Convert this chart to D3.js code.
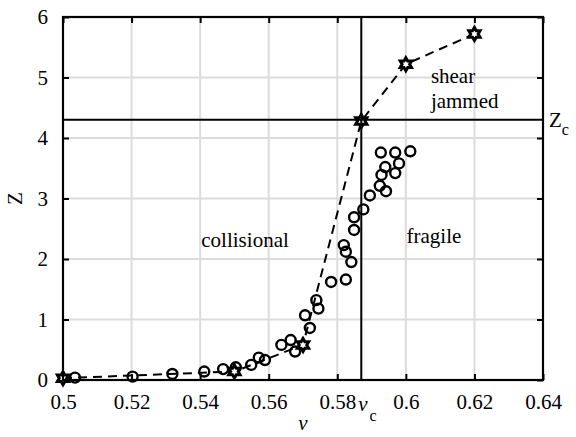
<!DOCTYPE html>
<html>
<head>
<meta charset="utf-8">
<script src="https://cdn.jsdelivr.net/npm/d3@7"></script>
<style>
  html, body { margin: 0; padding: 0; background: #fff; }
  svg { display: block; font-family: "Liberation Serif", "DejaVu Serif", serif; }
</style>
</head>
<body>
<svg id="chart" width="576" height="437"></svg>
<script>
// Coordination number Z vs. packing fraction nu
const xTicks = [0.5, 0.52, 0.54, 0.56, 0.58, 0.6, 0.62, 0.64];
const xTickLabels = ["0.5", "0.52", "0.54", "0.56", "0.58", "0.6", "0.62", "0.64"];
const yTicks = [0, 1, 2, 3, 4, 5, 6];
const yTickLabels = ["0", "1", "2", "3", "4", "5", "6"];

// Simulation points (hexagram markers, joined by dashed line)
const simNu = [0.5, 0.55, 0.57, 0.587, 0.6, 0.62];
const simZ  = [0.03, 0.14, 0.58, 4.28, 5.22, 5.72];

// Experimental points (open circles)
const expNu = [0.5035, 0.5203, 0.5319, 0.5412, 0.5467, 0.5504, 0.5549, 0.5571, 0.5589,
               0.5637, 0.5664, 0.5677, 0.5706, 0.572, 0.5739, 0.5745, 0.5782, 0.5819,
               0.5825, 0.5825, 0.5841, 0.5849, 0.5849, 0.5876, 0.5895, 0.5924, 0.5927,
               0.5929, 0.594, 0.5942, 0.5969, 0.5969, 0.598, 0.6013];
const expZ  = [0.04, 0.055, 0.10, 0.14, 0.18, 0.21, 0.25, 0.37, 0.33,
               0.58, 0.66, 0.47, 1.07, 0.86, 1.32, 1.18, 1.62, 2.23,
               2.12, 1.66, 1.95, 2.69, 2.48, 2.82, 3.05, 3.21, 3.76,
               3.39, 3.52, 3.12, 3.76, 3.42, 3.58, 3.78];

// Critical values
const nuC = 0.587;
const zC = 4.3;

// Region labels
const regionLabels = [
  { text: "collisional", nu: 0.5531, z: 2.32, anchor: "middle" },
  { text: "fragile", nu: 0.6082, z: 2.39, anchor: "middle" },
  { text: "shear", nu: 0.6073, z: 5.03, anchor: "start" },
  { text: "jammed", nu: 0.6073, z: 4.62, anchor: "start" }
];

const margin = { left: 63, right: 33, top: 17, bottom: 57 };
const W = 576, H = 437;
const svg = d3.select("#chart");

const x = d3.scaleLinear().domain([0.5, 0.64]).range([margin.left, W - margin.right]);
const y = d3.scaleLinear().domain([0, 6]).range([H - margin.bottom, margin.top]);

const fontSize = 21;

// Grid lines
const grid = svg.append("g");
grid.selectAll("line.gx").data(xTicks.slice(1, -1)).join("line")
  .attr("x1", d => x(d)).attr("x2", d => x(d))
  .attr("y1", y(0)).attr("y2", y(6))
  .attr("stroke", "#dcdcdc").attr("stroke-width", 2);
grid.selectAll("line.gy").data(yTicks.slice(1, -1)).join("line")
  .attr("x1", x(0.5)).attr("x2", x(0.64))
  .attr("y1", d => y(d)).attr("y2", d => y(d))
  .attr("stroke", "#dcdcdc").attr("stroke-width", 2);

// Axes with inward ticks
const tickLen = 6;
const bottomAxis = d3.axisBottom(x).tickValues(xTicks)
  .tickFormat((d, i) => xTickLabels[i]).tickSizeInner(-tickLen).tickSizeOuter(0).tickPadding(14);
const leftAxis = d3.axisLeft(y).tickValues(yTicks)
  .tickFormat((d, i) => yTickLabels[i]).tickSizeInner(-tickLen).tickSizeOuter(0).tickPadding(15);
const topAxis = d3.axisTop(x).tickValues(xTicks).tickFormat("").tickSizeInner(-tickLen).tickSizeOuter(0);
const rightAxis = d3.axisRight(y).tickValues(yTicks).tickFormat("").tickSizeInner(-tickLen).tickSizeOuter(0);

function styleAxis(g) {
  g.attr("font-family", null).attr("font-size", null);
  g.select(".domain").remove();
  g.selectAll(".tick line").attr("stroke", "#000").attr("stroke-width", 2);
  g.selectAll(".tick text").attr("fill", "#000")
    .style("font-family", "'Liberation Serif', serif").style("font-size", fontSize + "px");
}
svg.append("g").attr("transform", `translate(0,${y(0)})`).call(bottomAxis).call(styleAxis);
svg.append("g").attr("transform", `translate(${x(0.5)},0)`).call(leftAxis).call(styleAxis);
svg.append("g").attr("transform", `translate(0,${y(6)})`).call(topAxis).call(styleAxis);
svg.append("g").attr("transform", `translate(${x(0.64)},0)`).call(rightAxis).call(styleAxis);

// Open circles
svg.append("g").selectAll("circle").data(expNu.map((v, i) => [v, expZ[i]])).join("circle")
  .attr("cx", d => x(d[0])).attr("cy", d => y(d[1])).attr("r", 5)
  .attr("fill", "none").attr("stroke", "#000").attr("stroke-width", 2.4);

// Dashed line through simulation points
const simPts = simNu.map((v, i) => [v, simZ[i]]);
svg.append("path").datum(simPts)
  .attr("d", d3.line().x(d => x(d[0])).y(d => y(d[1])))
  .attr("fill", "none").attr("stroke", "#000").attr("stroke-width", 2)
  .attr("stroke-dasharray", "9,6");

// Hexagram markers
function hexagram(r) {
  const pts = [];
  for (let k = 0; k < 12; k++) {
    const a = -Math.PI / 2 + k * Math.PI / 6;
    const rr = k % 2 === 0 ? r : r / Math.sqrt(3);
    pts.push([rr * Math.cos(a), rr * Math.sin(a)]);
  }
  return "M" + pts.map(p => p.join(",")).join("L") + "Z";
}
svg.append("g").selectAll("path").data(simPts).join("path")
  .attr("transform", d => `translate(${x(d[0])},${y(d[1])})`)
  .attr("d", hexagram(6.5))
  .attr("fill", "#fff").attr("stroke", "#000").attr("stroke-width", 3)
  .attr("stroke-linejoin", "miter");

// Critical lines
svg.append("line").attr("x1", x(nuC)).attr("x2", x(nuC)).attr("y1", y(0)).attr("y2", y(6))
  .attr("stroke", "#000").attr("stroke-width", 2);
svg.append("line").attr("x1", x(0.5)).attr("x2", x(0.64)).attr("y1", y(zC)).attr("y2", y(zC))
  .attr("stroke", "#000").attr("stroke-width", 2);

// Frame
svg.append("rect").attr("x", x(0.5)).attr("y", y(6))
  .attr("width", x(0.64) - x(0.5)).attr("height", y(0) - y(6))
  .attr("fill", "none").attr("stroke", "#000").attr("stroke-width", 2.2);

// Region labels
svg.append("g").selectAll("text").data(regionLabels).join("text")
  .attr("x", d => x(d.nu)).attr("y", d => y(d.z))
  .attr("dy", "0.35em").attr("text-anchor", d => d.anchor)
  .style("font-size", fontSize + "px").text(d => d.text);

// Critical value labels
const zcLabel = svg.append("text").attr("x", x(0.64) + 6).attr("y", y(zC) + 7)
  .style("font-size", fontSize + "px");
zcLabel.append("tspan").text("Z");
zcLabel.append("tspan").attr("dy", 8).style("font-size", "16px").text("c");

const nucLabel = svg.append("text").attr("x", x(nuC) - 3).attr("y", y(0) + 31)
  .style("font-size", fontSize + "px");
nucLabel.append("tspan").style("font-style", "italic").text("ν");
nucLabel.append("tspan").attr("dx", 2).attr("dy", 10).style("font-size", "16px").text("c");

// Axis titles
svg.append("text").attr("x", (x(0.5) + x(0.64)) / 2).attr("y", 430)
  .attr("text-anchor", "middle").style("font-size", fontSize + "px")
  .style("font-style", "italic").text("ν");
svg.append("text").attr("transform", `translate(22,${(y(0) + y(6)) / 2}) rotate(-90)`)
  .attr("text-anchor", "middle").style("font-size", fontSize + "px").text("Z");
</script>
</body>
</html>
